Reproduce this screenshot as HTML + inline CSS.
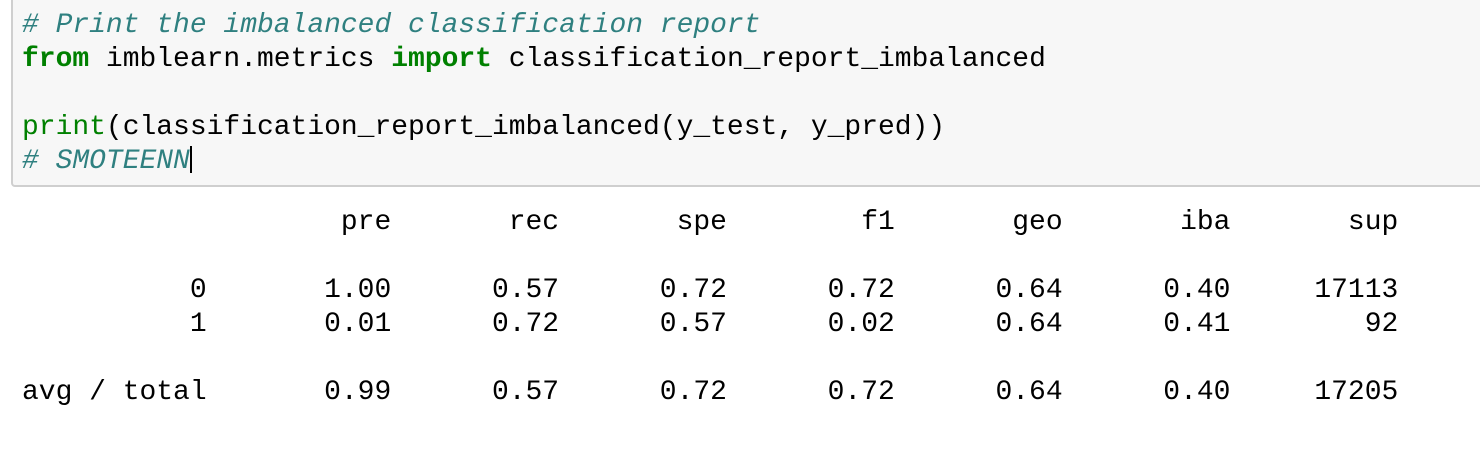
<!DOCTYPE html>
<html><head><meta charset="utf-8"><style>
html,body{margin:0;padding:0;background:#fff;width:1480px;height:464px;overflow:hidden}
pre{margin:0;font-family:"Liberation Mono",monospace;font-size:27.97px;line-height:34px;color:#000}
#cell{position:absolute;left:11px;top:-10px;width:1480px;height:197px;background:#f7f7f7;border:2px solid #cfcfcf;border-radius:4px;box-sizing:border-box}
#code{position:absolute;left:22px;top:9px}
.c{color:#2f8080;font-style:italic}
.k{color:#008000;font-weight:bold}
.b{color:#008000}
#cursor{display:inline-block;width:2px;height:27px;background:#000;vertical-align:-5px}
#out{position:absolute;left:22px;top:206px}
</style></head><body>
<div id="cell"></div>
<pre id="code"><span class="c"># Print the imbalanced classification report</span>
<span class="k">from</span> imblearn.metrics <span class="k">import</span> classification_report_imbalanced

<span class="b">print</span>(classification_report_imbalanced(y_test, y_pred))
<span class="c"># SMOTEENN</span><span id="cursor"></span></pre>
<pre id="out">                   pre       rec       spe        f1       geo       iba       sup

          0       1.00      0.57      0.72      0.72      0.64      0.40     17113
          1       0.01      0.72      0.57      0.02      0.64      0.41        92

avg / total       0.99      0.57      0.72      0.72      0.64      0.40     17205</pre>
</body></html>
